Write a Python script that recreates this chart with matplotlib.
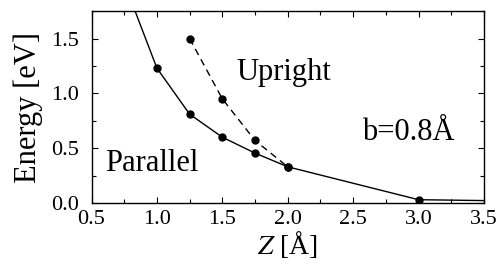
import numpy as np
import matplotlib.pyplot as plt
from matplotlib.ticker import MultipleLocator

plt.rcParams["font.family"] = ["Liberation Serif", "DejaVu Serif"]
plt.rcParams["mathtext.fontset"] = "stix"

# Parallel orientation (solid)
z_par = [1.0, 1.25, 1.5, 1.75, 2.0, 3.0]
e_par = [1.23, 0.81, 0.60, 0.455, 0.33, 0.03]
# solid line continues beyond the computed points
z_par_line = [0.83, 1.0, 1.25, 1.5, 1.75, 2.0, 3.0, 3.5]
e_par_line = [1.76, 1.23, 0.81, 0.60, 0.455, 0.33, 0.03, 0.022]

# Upright orientation (dashed)
z_up = [1.25, 1.5, 1.75, 2.0]
e_up = [1.50, 0.95, 0.57, 0.33]

fig = plt.figure(figsize=(5.0, 2.65), dpi=100)
ax = fig.add_axes([0.183, 0.234, 0.785, 0.724])

ax.plot(z_par_line, e_par_line, color="black", lw=1.0)
ax.plot(z_par, e_par, "o", color="black", ms=5)
ax.plot(z_up, e_up, "o", color="black", ms=5, ls=(0, (5, 3.5)), lw=1.0)

ax.set_xlim(0.5, 3.5)
ax.set_ylim(0.0, 1.75)
ax.xaxis.set_major_locator(MultipleLocator(0.5))
ax.xaxis.set_minor_locator(MultipleLocator(0.25))
ax.yaxis.set_major_locator(MultipleLocator(0.5))
ax.yaxis.set_minor_locator(MultipleLocator(0.25))
ax.tick_params(which="both", direction="in", top=True, right=True, labelsize=16, width=0.8)
ax.tick_params(which="major", length=4)
ax.tick_params(which="minor", length=3)
ax.tick_params(axis="x", pad=5)
ax.tick_params(axis="y", pad=9)
ax.set_xticks([0.5, 1.0, 1.5, 2.0, 2.5, 3.0, 3.5])
ax.set_xticklabels(["0.5", "1.0", "1.5", "2.0", "2.5", "3.0", "3.5"])
ax.set_yticks([0.0, 0.5, 1.0, 1.5])
ax.set_yticklabels(["0.0", "0.5", "1.0", "1.5"])
for s in ax.spines.values():
    s.set_linewidth(1.0)

ax.set_xlabel(r"$Z$ [Å]", fontsize=20, labelpad=0)
ax.set_ylabel("Energy [eV]", fontsize=22, labelpad=6)

ax.text(1.61, 1.19, "Upright", fontsize=22, ha="left", va="center")
ax.text(0.6, 0.36, "Parallel", fontsize=22, ha="left", va="center")
ax.text(2.57, 0.64, "b=0.8Å", fontsize=22, ha="left", va="center")

fig.savefig("out.png", dpi=100)
